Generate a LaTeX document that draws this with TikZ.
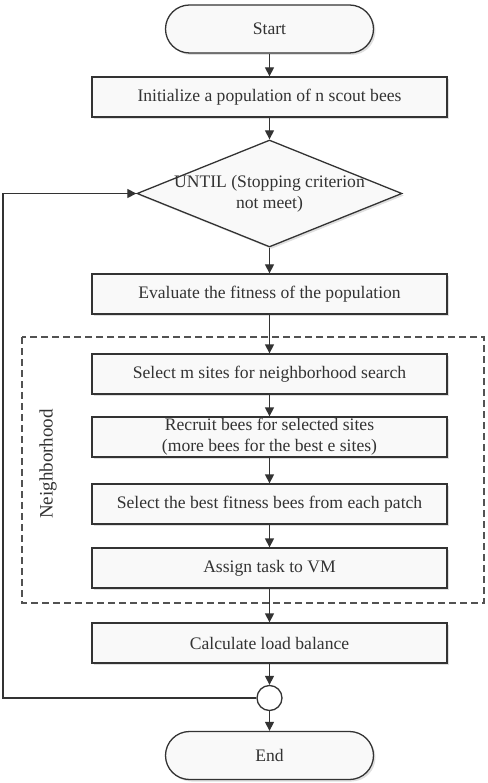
\documentclass[tikz,border=0pt]{standalone}
\usepackage{fontspec}
\setmainfont{Liberation Serif}
\usetikzlibrary{shapes.geometric,shadows,arrows.meta}
\definecolor{ink}{HTML}{333333}
\begin{document}
\begin{tikzpicture}[x=1pt,y=-1pt,line width=1.3pt,>={Triangle[length=9pt,width=9pt]},
	font=\fontsize{17.6}{21}\selectfont,
	box/.style={draw=ink,fill=gray!5,text=ink,align=center,inner sep=0pt,minimum width=355pt,minimum height=40pt,drop shadow={shadow xshift=2pt,shadow yshift=-2pt,opacity=.25}},
	term/.style={box,minimum width=208pt,minimum height=48pt,rounded corners=24pt},
	cond/.style={box,diamond,minimum width=265pt,minimum height=107pt},
	flow/.style={->,draw=ink}]
	\useasboundingbox (0,0) rectangle (487,783);
	\draw[dashed,dash pattern=on 7pt off 4pt,draw=ink!85,line width=1.1pt] (22,337) rectangle (484,603);
	\node[term] (start) at (269.5,29) {Start};
	\node[box] (init) at (269.5,97) {Initialize a population of n scout bees};
	\node[cond,label={[align=center,text=ink]center:UNTIL (Stopping criterion\\not meet)}] (until) at (269.5,193.5) {};
	\node[box] (eval) at (269.5,294) {Evaluate the fitness of the population};
	\node[box] (selm) at (269.5,374) {Select m sites for neighborhood search};
	\node[box] (recruit) at (269.5,437) {Recruit bees for selected sites\\(more bees for the best e sites)};
	\node[box] (best) at (269.5,504) {Select the best fitness bees from each patch};
	\node[box] (assign) at (269.5,568) {Assign task to VM};
	\node[rotate=90,text=ink,font=\fontsize{19}{21}\selectfont] (nbh) at (48,464) {Neighborhood};
	\node[box] (calc) at (269.5,643) {Calculate load balance};
	\node[draw=ink,fill=white,circle,minimum size=25pt,inner sep=0pt] (join) at (269.5,698) {};
	\node[term] (end) at (269.5,755.5) {End};
	\foreach \a/\b in {start/init,init/until,until/eval,eval/selm,selm/recruit,recruit/best,best/assign,assign/calc,calc/join,join/end}
		\draw[flow] (\a) -- (\b);
	\coordinate (back) at (3,698);
	\draw[flow] (join) -- (back) |- (until);
\end{tikzpicture}
\end{document}
